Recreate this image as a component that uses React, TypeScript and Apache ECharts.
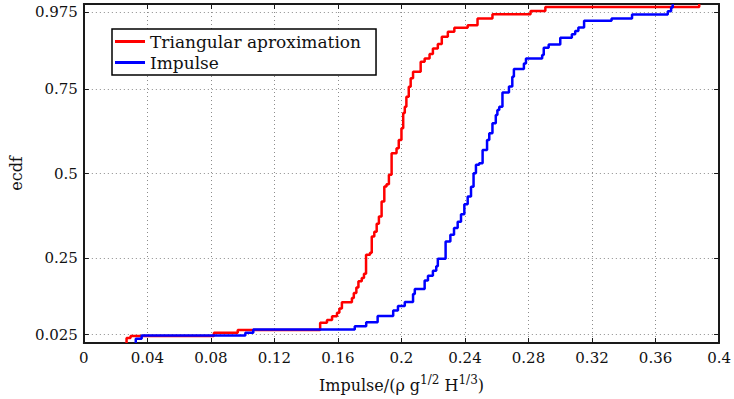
import React, { useEffect, useRef } from "react";
import * as echarts from "echarts";

// ECDF step data (x = impulse, y = ecdf after the step)
const redX = [0.0269, 0.0269, 0.0294, 0.0819, 0.0969, 0.1488, 0.1531, 0.1563, 0.1594, 0.1609, 0.1625, 0.1688, 0.17, 0.1716, 0.1729, 0.175, 0.1764, 0.1777, 0.1802, 0.1813, 0.1829, 0.1844, 0.1858, 0.1875, 0.1892, 0.1906, 0.1921, 0.1938, 0.1969, 0.1983, 0.2, 0.2011, 0.2021, 0.2031, 0.2046, 0.2058, 0.2073, 0.2121, 0.2146, 0.2177, 0.2198, 0.2229, 0.2254, 0.2292, 0.2333, 0.2417, 0.2479, 0.2573, 0.2813, 0.2906, 0.3875];
const redY = [0, 0.0147, 0.0206, 0.03, 0.0383, 0.0595, 0.0677, 0.0789, 0.0889, 0.1016, 0.1201, 0.1331, 0.1478, 0.1634, 0.1819, 0.1919, 0.2046, 0.2605, 0.2664, 0.3144, 0.3282, 0.3518, 0.3733, 0.4174, 0.4616, 0.4681, 0.496, 0.5599, 0.5746, 0.5991, 0.6335, 0.6786, 0.6971, 0.7265, 0.756, 0.7807, 0.8001, 0.8296, 0.8396, 0.8522, 0.869, 0.8817, 0.9032, 0.9179, 0.9297, 0.9376, 0.9573, 0.97, 0.9797, 0.9915, 1.0];

const blueX = [0.0327, 0.0327, 0.0364, 0.1017, 0.1067, 0.1706, 0.1778, 0.185, 0.1948, 0.1978, 0.2021, 0.2073, 0.2084, 0.2146, 0.2167, 0.2198, 0.2219, 0.2229, 0.2278, 0.2308, 0.2331, 0.2354, 0.2375, 0.2396, 0.2417, 0.2438, 0.2454, 0.2469, 0.2489, 0.2511, 0.2539, 0.2553, 0.2573, 0.2594, 0.2604, 0.2616, 0.2636, 0.2677, 0.2698, 0.2708, 0.2771, 0.2784, 0.2886, 0.2896, 0.2927, 0.3, 0.3073, 0.3094, 0.3114, 0.315, 0.3323, 0.3452, 0.3677, 0.3698, 0.3708];
const blueY = [0, 0.0124, 0.0221, 0.03, 0.0397, 0.0495, 0.0612, 0.0795, 0.0957, 0.1095, 0.1207, 0.1448, 0.1596, 0.184, 0.1987, 0.2134, 0.2261, 0.2487, 0.2997, 0.3194, 0.3391, 0.3577, 0.3797, 0.4092, 0.4322, 0.4607, 0.501, 0.5255, 0.5305, 0.5696, 0.5991, 0.6188, 0.6482, 0.6727, 0.6874, 0.6971, 0.7389, 0.7566, 0.7854, 0.8081, 0.8243, 0.8396, 0.8493, 0.8708, 0.8808, 0.9002, 0.9111, 0.92, 0.9308, 0.9503, 0.9573, 0.9691, 0.9788, 0.9897, 1.0];

const yTickValues = [0.025, 0.25, 0.5, 0.75, 0.975];
const xMin = 0;
const xMax = 0.4;
const xInterval = 0.04;

const seriesNames = ["Triangular aproximation", "Impulse"];

const FONT = "DejaVu Serif";
const AXIS_COLOR = "#1a1a1a";
const GRID_COLOR = "#8c8c8c";

export default function App() {
  const ref = useRef<HTMLDivElement>(null);

  useEffect(() => {
    if (!ref.current) return;
    const chart = echarts.init(ref.current, undefined, { renderer: "svg" });

    const redData = redX.map((x, i) => [x, redY[i]]);
    const blueData = blueX.map((x, i) => [x, blueY[i]]);

    const fmtX = (v: number) => String(parseFloat(v.toFixed(2)));

    chart.setOption({
      animation: false,
      backgroundColor: "#ffffff",
      textStyle: { fontFamily: FONT },
      grid: { left: 80, right: 14, top: 4, bottom: 56, containLabel: false },
      legend: {
        show: true,
        orient: "vertical",
        left: 112,
        top: 29,
        padding: [3, 15, 3, 3],
        itemGap: 2,
        itemWidth: 30,
        itemHeight: 3,
        icon: "rect",
        backgroundColor: "#ffffff",
        borderColor: "#000000",
        borderWidth: 1.5,
        borderRadius: 0,
        textStyle: { fontFamily: FONT, fontSize: 17, color: "#111", lineHeight: 19 },
        data: seriesNames,
      },
      xAxis: [
        {
          type: "value",
          position: "bottom",
          min: xMin,
          max: xMax,
          interval: xInterval,
          axisLine: { show: true, lineStyle: { color: AXIS_COLOR, width: 2 } },
          axisTick: { show: true, inside: true, length: 5, lineStyle: { color: AXIS_COLOR, width: 1 } },
          axisLabel: { fontFamily: FONT, fontSize: 15, color: "#111", margin: 7, formatter: fmtX },
          splitLine: { show: true, lineStyle: { color: GRID_COLOR, width: 1, type: [1, 3] } },
          name: "{m|Impulse/(ρ g}{s|1/2}{m| H}{s|1/3}{m|)}",
          nameLocation: "middle",
          nameGap: 31,
          nameTextStyle: {
            rich: {
              m: { fontFamily: FONT, fontSize: 16, color: "#111" },
              s: { fontFamily: FONT, fontSize: 12, color: "#111", padding: [0, 0, 10, 0] },
            },
          },
        },
        {
          type: "value",
          position: "top",
          min: xMin,
          max: xMax,
          interval: xInterval,
          axisLine: { show: true, onZero: false, lineStyle: { color: AXIS_COLOR, width: 2 } },
          axisTick: { show: true, inside: true, length: 5, lineStyle: { color: AXIS_COLOR, width: 1 } },
          axisLabel: { show: false },
          splitLine: { show: false },
        },
      ],
      yAxis: [
        {
          type: "value",
          position: "left",
          min: 0,
          max: 1,
          axisLine: { show: true, onZero: false, lineStyle: { color: AXIS_COLOR, width: 2 } },
          axisTick: { show: true, inside: true, length: 5, customValues: yTickValues, lineStyle: { color: AXIS_COLOR, width: 1 } },
          axisLabel: { fontFamily: FONT, fontSize: 15, color: "#111", margin: 6, customValues: yTickValues, formatter: (v: number) => String(v) },
          splitLine: { show: true, lineStyle: { color: GRID_COLOR, width: 1, type: [1, 3] } },
          name: "ecdf",
          nameLocation: "middle",
          nameGap: 56,
          nameTextStyle: { fontFamily: FONT, fontSize: 16, color: "#111" },
        },
        {
          type: "value",
          position: "right",
          min: 0,
          max: 1,
          axisLine: { show: true, onZero: false, lineStyle: { color: AXIS_COLOR, width: 2 } },
          axisTick: { show: true, inside: true, length: 5, customValues: yTickValues, lineStyle: { color: AXIS_COLOR, width: 1 } },
          axisLabel: { show: false, customValues: yTickValues },
          splitLine: { show: false },
        },
      ],
      series: [
        {
          name: seriesNames[0],
          type: "line",
          step: "end",
          data: redData,
          symbol: "none",
          color: "#ff0000",
          lineStyle: { color: "#ff0000", width: 2.5 },
          xAxisIndex: 0,
          yAxisIndex: 0,
          z: 3,
        },
        {
          name: seriesNames[1],
          type: "line",
          step: "end",
          data: blueData,
          symbol: "none",
          color: "#0000ff",
          lineStyle: { color: "#0000ff", width: 2.5 },
          xAxisIndex: 0,
          yAxisIndex: 0,
          z: 3,
        },
      ],
    });

    return () => {
      chart.dispose();
    };
  }, []);

  return (
    <div
      ref={ref}
      style={{ position: "fixed", left: 0, top: 0, width: 734, height: 399 }}
    />
  );
}
